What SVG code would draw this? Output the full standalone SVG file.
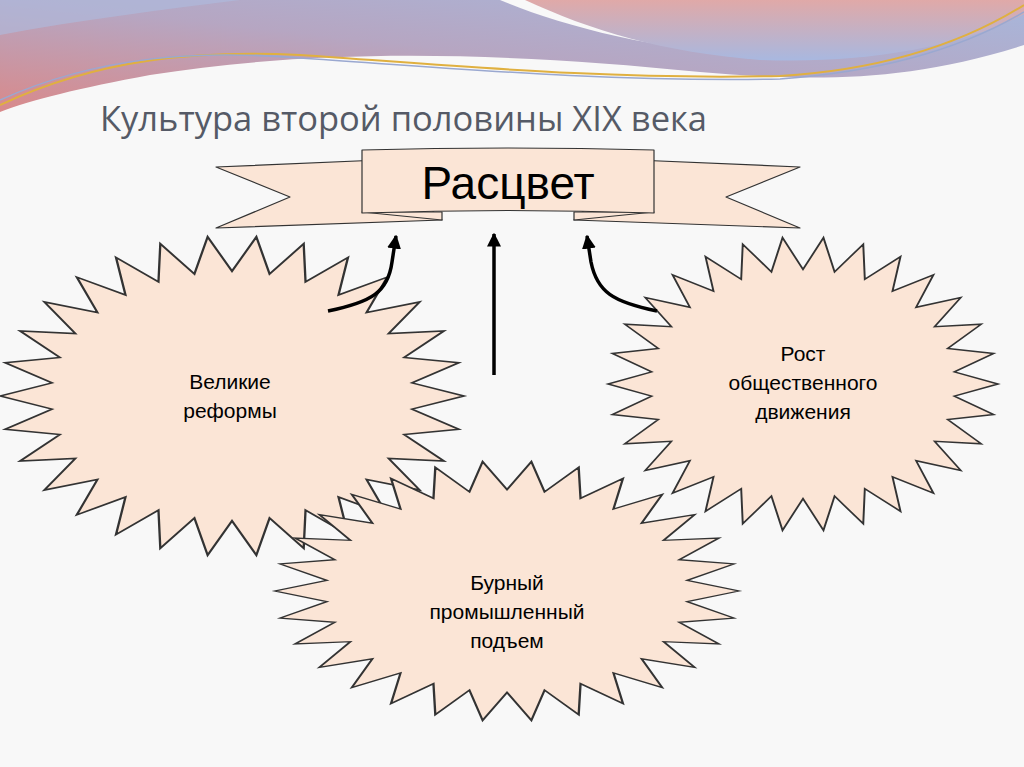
<svg xmlns="http://www.w3.org/2000/svg" xmlns:xlink="http://www.w3.org/1999/xlink" width="1024" height="767" viewBox="0 0 1024 767">
<defs>
<linearGradient id="g1" x1="0" y1="1" x2="1" y2="0"><stop offset="0" stop-color="#d9898a"/><stop offset="0.5" stop-color="#b6a6c2"/><stop offset="1" stop-color="#a7b7dc"/></linearGradient>
<linearGradient id="g2" x1="0" y1="0" x2="0" y2="1"><stop offset="0" stop-color="#e0a9a8"/><stop offset="1" stop-color="#a8b8e0"/></linearGradient>
<polygon id="star" points="100,0 77.6,8.2 97.8,20.8 74.2,24.1 91.4,40.7 67.5,39 80.9,58.8 58,52.2 66.9,74.3 45.9,63.1 50,86.6 31.7,71.3 30.9,95.1 16.2,76.3 10.5,99.5 0,78 -10.5,99.5 -16.2,76.3 -30.9,95.1 -31.7,71.3 -50,86.6 -45.9,63.1 -66.9,74.3 -58,52.2 -80.9,58.8 -67.5,39 -91.4,40.7 -74.2,24.1 -97.8,20.8 -77.6,8.2 -100,0 -77.6,-8.2 -97.8,-20.8 -74.2,-24.1 -91.4,-40.7 -67.5,-39 -80.9,-58.8 -58,-52.2 -66.9,-74.3 -45.9,-63.1 -50,-86.6 -31.7,-71.3 -30.9,-95.1 -16.2,-76.3 -10.5,-99.5 0,-78 10.5,-99.5 16.2,-76.3 30.9,-95.1 31.7,-71.3 50,-86.6 45.9,-63.1 66.9,-74.3 58,-52.2 80.9,-58.8 67.5,-39 91.4,-40.7 74.2,-24.1 97.8,-20.8 77.6,-8.2"/>
<marker id="ah" viewBox="0 0 10 10" refX="9" refY="5" markerWidth="4" markerHeight="5" orient="auto-start-reverse"><path d="M0,0 L10,5 L0,10 Z" fill="#000"/></marker>
<style>
.st{fill:#fbe5d6;stroke:#333;stroke-width:1;vector-effect:non-scaling-stroke}
.lbl{font-family:"Liberation Sans",Arial,sans-serif;font-size:21px;fill:#000;text-anchor:middle}
.rib{fill:#fbe5d6;stroke:#333;stroke-width:1.2;stroke-linejoin:round}
.con{fill:none;stroke:#000;stroke-width:3.5;marker-end:url(#ah)}
</style>
</defs>
<rect width="1024" height="767" fill="#f8f8f8"/>
<g id="header">
<path d="M0,0 L1024,0 L1024,45 C900,85 800,80 700,72 C500,52 320,48 150,75 C80,88 30,100 0,112 Z" fill="url(#g1)"/>
<path d="M0,0 L240,0 C160,10 80,20 0,35 Z" fill="#aebde0" opacity="0.6"/>
<path d="M500,0 L1024,0 L1024,10 C950,40 850,55 760,55 C650,50 560,25 500,0 Z" fill="#f8f8f8"/>
<path d="M525,0 L1024,0 L1024,14 C960,48 860,64 760,60 C660,52 590,30 525,0 Z" fill="url(#g2)"/>
<path d="M0,105 C100,58 200,50 300,55 C450,65 600,80 780,76 C880,70 960,45 1024,5" fill="none" stroke="#e0b040" stroke-width="2"/>
<path d="M0,100 C100,55 200,50 300,58 C450,68 600,82 780,79 C880,72 960,50 1024,12" fill="none" stroke="#9aa8d0" stroke-width="1.5"/>
</g>
<text x="100" y="131" font-family="'Open Sans',sans-serif" font-size="34" fill="#555a66" textLength="607" lengthAdjust="spacingAndGlyphs">Культура второй  половины XIX века</text>
<g id="n-left"><use xlink:href="#star" class="st" transform="translate(232,396) scale(2.32,1.6)"/><text class="lbl" x="230" y="389">Великие</text><text class="lbl" x="230" y="418">реформы</text></g>
<g id="n-right"><use xlink:href="#star" class="st" transform="translate(803,384) scale(1.95,1.47)"/><text class="lbl" x="803" y="361">Рост</text><text class="lbl" x="803" y="390">общественного</text><text class="lbl" x="803" y="419">движения</text></g>
<g id="n-bottom"><use xlink:href="#star" class="st" transform="translate(507,591) scale(2.32,1.3)"/><text class="lbl" x="507" y="590">Бурный</text><text class="lbl" x="507" y="619">промышленный</text><text class="lbl" x="507" y="648">подъем</text></g>
<g id="n-top">
<polygon class="rib" points="216,167 380,160 442,220 216,228 290,197"/>
<polygon class="rib" points="800,167 636,160 574,220 800,228 726,197"/>
<polygon class="rib" points="362,212 442,220 442,212"/>
<polygon class="rib" points="654,212 574,220 574,212"/>
<path class="rib" d="M362,150 Q508,146 654,150 L654,213 Q508,208 362,213 Z"/>
<text x="508" y="199" font-family="'Liberation Sans',Arial,sans-serif" font-size="46" text-anchor="middle" fill="#000">Расцвет</text>
</g>
<g id="connectors">
<path class="con" d="M494,375 L494,234"/>
<path class="con" d="M328,311 C372,302 388,292 392,262 L396,236"/>
<path class="con" d="M657,311 C613,302 597,292 591,262 L587,236"/>
</g>
</svg>
